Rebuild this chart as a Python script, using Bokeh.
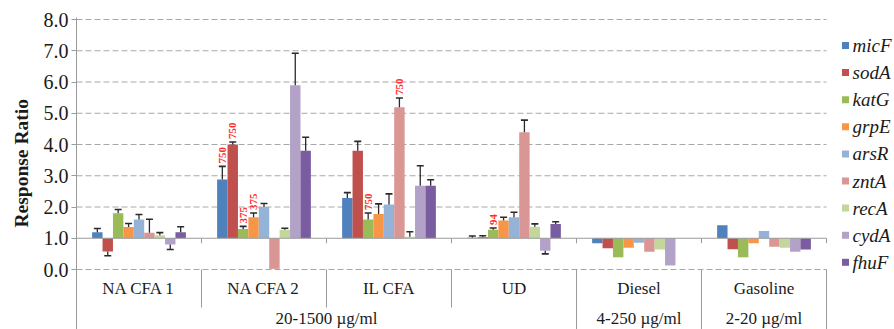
import math
from bokeh.plotting import figure
from bokeh.models import ColumnDataSource, FixedTicker, PrintfTickFormatter, Range1d, Title
from bokeh.core.properties import value
from bokeh.embed import file_html
from bokeh.resources import INLINE

# ---- data -------------------------------------------------------------
groups = ["NA CFA 1", "NA CFA 2", "IL CFA", "UD", "Diesel", "Gasoline"]
genes = ["micF", "sodA", "katG", "grpE", "arsR", "zntA", "recA", "cydA", "fhuF"]
colors = ["#4F81BD", "#C0504D", "#9BBB59", "#F79646", "#95B3D7",
          "#D99694", "#C3D69B", "#B3A2C7", "#7A5CA0"]

micF = [1.19, 2.88, 2.29, 1.02, 0.84, 1.42]
sodA = [0.58, 4.00, 3.80, 1.03, 0.68, 0.65]
katG = [1.80, 1.30, 1.60, 1.27, 0.39, 0.39]
grpE = [1.36, 1.67, 1.78, 1.57, 0.70, 0.84]
arsR = [1.60, 2.00, 2.08, 1.67, 0.86, 1.23]
zntA = [1.18, 0.02, 5.19, 4.39, 0.57, 0.73]
recA = [1.10, 1.27, 1.05, 1.37, 0.64, 0.70]
cydA = [0.80, 5.90, 2.68, 0.60, 0.13, 0.57]
fhuF = [1.19, 3.80, 2.68, 1.46, 1.00, 0.64]

micF_err = [0.12, 0.42, 0.17, 0.05, 0, 0]
sodA_err = [0.14, 0.08, 0.30, 0.05, 0, 0]
katG_err = [0.12, 0.08, 0.21, 0.06, 0, 0]
grpE_err = [0.11, 0.14, 0.32, 0.10, 0, 0]
arsR_err = [0.16, 0.11, 0.34, 0.16, 0, 0]
zntA_err = [0.43, 0.00, 0.30, 0.39, 0, 0]
recA_err = [0.08, 0.05, 0.16, 0.09, 0, 0]
cydA_err = [0.16, 1.02, 0.64, 0.10, 0, 0]
fhuF_err = [0.18, 0.43, 0.19, 0.07, 0, 0]

values = [micF, sodA, katG, grpE, arsR, zntA, recA, cydA, fhuF]
errors = [micF_err, sodA_err, katG_err, grpE_err, arsR_err,
          zntA_err, recA_err, cydA_err, fhuF_err]

# concentration annotations written above individual bars
note_group = ["NA CFA 2", "NA CFA 2", "NA CFA 2", "NA CFA 2", "IL CFA", "IL CFA", "UD"]
note_gene = ["micF", "sodA", "katG", "grpE", "katG", "zntA", "katG"]
note_text = ["750", "750", "375", "375", "750", "750", "94"]

# second level of the category axis
conc_labels = ["20-1500 µg/ml", "4-250 µg/ml", "2-20 µg/ml"]
conc_first = [0, 4, 5]
conc_last = [3, 4, 5]

y_ticks = [0, 1, 2, 3, 4, 5, 6, 7, 8]
baseline = 1.0

# ---- geometry ---------------------------------------------------------
SERIF = value("Liberation Serif")
PX_PER_UNIT = 31.25          # vertical pixels per response-ratio unit
GROUP_PX = 125               # horizontal pixels per group
W, H = 894, 329
LEFT, TOP = 76, 17
n_groups = len(groups)
n_genes = len(genes)
bar_w = 1.0 / 12
pad = (1.0 - n_genes * bar_w) / 2

y_top = 8.0 + 2 / PX_PER_UNIT
y_bot = y_top - (H - TOP) / PX_PER_UNIT
x_end = (W - LEFT) / GROUP_PX

p = figure(width=W, height=H, output_backend="svg", toolbar_location=None,
           x_range=Range1d(0, x_end), y_range=Range1d(y_bot, y_top),
           x_axis_location=None, min_border_left=LEFT, min_border_right=0,
           min_border_top=TOP, min_border_bottom=0)
p.outline_line_color = None
p.xgrid.visible = False
p.ygrid.visible = False
p.background_fill_color = "white"
p.border_fill_color = "white"

# y axis
ax = p.yaxis[0]
ax.ticker = FixedTicker(ticks=y_ticks)
ax.formatter = PrintfTickFormatter(format="%.1f")
ax.axis_line_color = "#9a9a9a"
ax.major_tick_line_color = "#9a9a9a"
ax.major_tick_out = 5
ax.major_tick_in = 0
ax.minor_tick_line_color = None
ax.major_label_standoff = 3
ax.major_label_text_font = "Liberation Serif"
ax.major_label_text_font_size = "20px"
ax.major_label_text_color = "#1a1a1a"

# axis title in its own side panel so it can sit a little below centre
p.add_layout(Title(text="Response Ratio", align="left", offset=102,
                   vertical_align="middle", standoff=16,
                   text_font="Liberation Serif", text_font_style="bold",
                   text_font_size="19.5px", text_color="#1a1a1a"), "left")

# dashed horizontal grid (the 1.0 level carries the solid category axis)
grid_y = [t for t in y_ticks if t != baseline]
p.segment(x0=[0] * len(grid_y), x1=[n_groups] * len(grid_y), y0=grid_y, y1=grid_y,
          line_color="#a8a8a8", line_width=1, line_dash="6 3")

# bars, one renderer per gene, drawn from the 1.0 baseline
for k, gene in enumerate(genes):
    xs = [g + pad + (k + 0.5) * bar_w for g in range(n_groups)]
    src = ColumnDataSource(dict(x=xs, top=values[k], bottom=[baseline] * n_groups))
    p.vbar(x="x", top="top", bottom="bottom", width=bar_w, source=src,
           fill_color=colors[k], line_color=None)

# error bars, pointing away from the baseline
for k, gene in enumerate(genes):
    ex, ey0, ey1 = [], [], []
    for g in range(n_groups):
        e = errors[k][g]
        if e <= 0:
            continue
        v = values[k][g]
        ex.append(g + pad + (k + 0.5) * bar_w)
        ey0.append(v)
        ey1.append(v + e if v >= baseline else v - e)
    p.segment(x0=ex, x1=ex, y0=ey0, y1=ey1, line_color="#2a2a2a", line_width=1.3)
    p.scatter(x=ex, y=ey1, marker="dash", size=7, line_color="#2a2a2a", line_width=1.6)

# concentration notes above the error bars
nx, ny = [], []
for grp, gene in zip(note_group, note_gene):
    g = groups.index(grp)
    k = genes.index(gene)
    nx.append(g + pad + (k + 0.5) * bar_w)
    ny.append(values[k][g] + errors[k][g])
p.text(x=nx, y=ny, text=note_text, angle=math.pi / 2, y_offset=-3,
       text_align="left", text_baseline="middle", text_font=SERIF,
       text_font_style="bold", text_font_size="11px", text_color="#FF2E2E")

# category axis crossing at 1.0 with tick marks at group boundaries
p.segment(x0=[0], x1=[n_groups], y0=[baseline], y1=[baseline],
          line_color="#9a9a9a", line_width=1.2)
bx = list(range(1, n_groups + 1))
tick_len = 5 / PX_PER_UNIT
p.segment(x0=bx, x1=bx, y0=[baseline] * len(bx), y1=[baseline - tick_len] * len(bx),
          line_color="#9a9a9a", line_width=1)

# category label box below the plot
row1_y = -19 / PX_PER_UNIT
row2_y = -49 / PX_PER_UNIT
row_split = -38 / PX_PER_UNIT
outer = [c for c in conc_first if c > 0] + [n_groups]
inner = [g for g in range(1, n_groups) if g not in outer]
p.segment(x0=inner, x1=inner, y0=[0] * len(inner), y1=[row_split] * len(inner),
          line_color="#9a9a9a", line_width=1)
p.segment(x0=outer, x1=outer, y0=[0] * len(outer), y1=[y_bot] * len(outer),
          line_color="#9a9a9a", line_width=1)

p.text(x=[g + 0.5 for g in range(n_groups)], y=[row1_y] * n_groups, text=groups,
       text_align="center", text_baseline="middle", text_font=SERIF,
       text_font_size="17px", text_color="#1a1a1a")
p.text(x=[(a + b + 1) / 2 for a, b in zip(conc_first, conc_last)],
       y=[row2_y] * len(conc_labels), text=conc_labels,
       text_align="center", text_baseline="middle", text_font=SERIF,
       text_font_size="17px", text_color="#1a1a1a")

# legend column on the right
leg_x = (845 - LEFT) / GROUP_PX
leg_tx = (852 - LEFT) / GROUP_PX
leg_y = [(269 - (45 + 27.1 * k)) / PX_PER_UNIT for k in range(n_genes)]
p.scatter(x=[leg_x] * n_genes, y=leg_y, marker="square", size=7,
          fill_color=colors, line_color=None)
p.text(x=[leg_tx] * n_genes, y=leg_y, text=genes, text_align="left",
       text_baseline="middle", text_font=SERIF, text_font_style="italic",
       text_font_size="19px", text_color="#1a1a1a")

open("out.html", "w").write(file_html(p, INLINE))
